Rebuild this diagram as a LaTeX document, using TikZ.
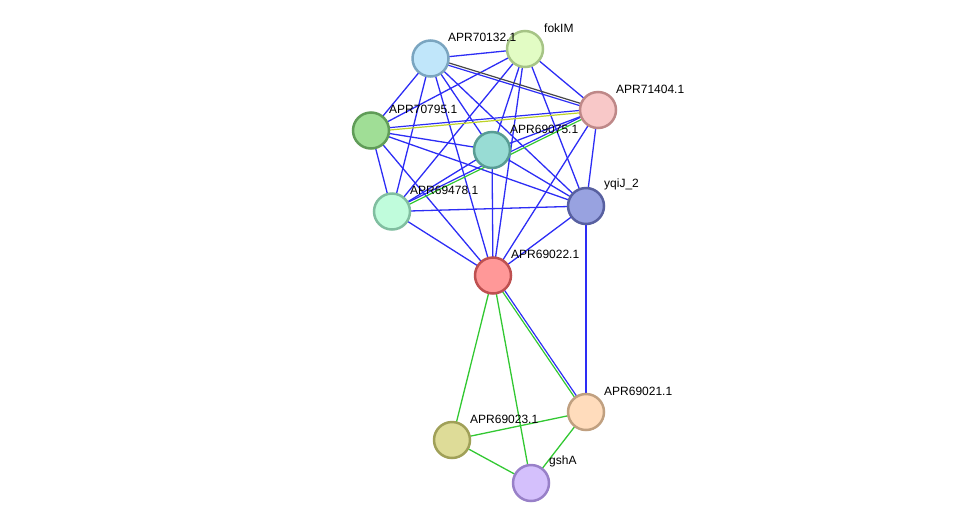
\documentclass[tikz,border=0pt]{standalone}
\usepackage{fontspec}
\setmainfont{Liberation Sans}
\usetikzlibrary{calc,backgrounds}
\definecolor{eblue}{RGB}{45,45,245}
\definecolor{egreen}{RGB}{50,200,50}
\definecolor{eyellow}{RGB}{190,210,40}
\definecolor{egrey}{RGB}{70,70,70}
\tikzset{
  prot/.style={circle, minimum size=36pt, inner sep=0pt, line width=2.5pt},
  lab/.style={anchor=west, font=\fontsize{12pt}{14pt}\selectfont, inner sep=0pt, text=black},
  ed/.style={line width=1.3pt, eblue},
  edg/.style={line width=1.3pt, egreen},
}
\newcommand{\dbl}[4]{%
  \draw[line width=1.2pt,#3] ($(#1)!1.2pt!90:(#2)$) -- ($(#2)!1.2pt!-90:(#1)$);
  \draw[line width=1.2pt,#4] ($(#1)!1.2pt!-90:(#2)$) -- ($(#2)!1.2pt!90:(#1)$);}
\begin{document}
\begin{tikzpicture}[x=1pt,y=-1pt]
\useasboundingbox (0,0) rectangle (976,528);
\node[prot, fill={rgb,255:red,192;green,230;blue,250}, draw={rgb,255:red,122;green,165;blue,192}] (A) at (430.5,58.5) {};
\node[prot, fill={rgb,255:red,226;green,252;blue,196}, draw={rgb,255:red,166;green,196;blue,134}] (F) at (525,49) {};
\node[prot, fill={rgb,255:red,248;green,200;blue,200}, draw={rgb,255:red,190;green,136;blue,136}] (K) at (598,110) {};
\node[prot, fill={rgb,255:red,160;green,222;blue,150}, draw={rgb,255:red,96;green,156;blue,88}] (W) at (371,130.5) {};
\node[prot, fill={rgb,255:red,152;green,220;blue,212}, draw={rgb,255:red,88;green,156;blue,148}] (T) at (492,150) {};
\node[prot, fill={rgb,255:red,152;green,162;blue,224}, draw={rgb,255:red,88;green,96;blue,160}] (Y) at (586,206) {};
\node[prot, fill={rgb,255:red,192;green,252;blue,220}, draw={rgb,255:red,128;green,190;blue,160}] (H) at (392,211.5) {};
\node[prot, fill={rgb,255:red,255;green,152;blue,152}, draw={rgb,255:red,190;green,80;blue,80}] (C) at (493,275.5) {};
\node[prot, fill={rgb,255:red,255;green,220;blue,188}, draw={rgb,255:red,192;green,160;blue,128}] (D) at (586,412) {};
\node[prot, fill={rgb,255:red,222;green,220;blue,152}, draw={rgb,255:red,160;green,160;blue,88}] (E) at (452,440) {};
\node[prot, fill={rgb,255:red,212;green,192;blue,252}, draw={rgb,255:red,152;green,128;blue,200}] (G) at (531,483) {};

\node[lab] (lA) at (448,37.5) {APR70132.1};
\node[lab] (lF) at (544,28) {fokIM};
\node[lab] (lK) at (616,89) {APR71404.1};
\node[lab] (lW) at (389,109) {APR70795.1};
\node[lab] (lT) at (510,129) {APR69075.1};
\node[lab] (lY) at (604,184) {yqiJ\_2};
\node[lab] (lH) at (410,190) {APR69478.1};
\node[lab] (lC) at (511,254) {APR69022.1};
\node[lab] (lD) at (604,391) {APR69021.1};
\node[lab] (lE) at (470,419) {APR69023.1};
\node[lab] (lG) at (549,461) {gshA};

\begin{pgfonlayer}{background}
\foreach \a/\b in {A/F,A/W,A/H,A/T,A/Y,A/C,F/K,F/W,F/H,F/T,F/Y,F/C,K/T,K/C,K/Y,W/T,W/Y,W/C,W/H,T/H,T/Y,T/C,Y/H,Y/C,Y/D,H/C}
  \draw[ed] (\a.center) -- (\b.center);
\foreach \a/\b in {C/E,C/G,D/E,D/G,E/G}
  \draw[edg] (\a.center) -- (\b.center);
\dbl{A.center}{K.center}{egrey}{eblue}
\dbl{W.center}{K.center}{eblue}{eyellow}
\dbl{H.center}{K.center}{eblue}{egreen}
\dbl{C.center}{D.center}{eblue}{egreen}
\end{pgfonlayer}
\end{tikzpicture}
\end{document}
